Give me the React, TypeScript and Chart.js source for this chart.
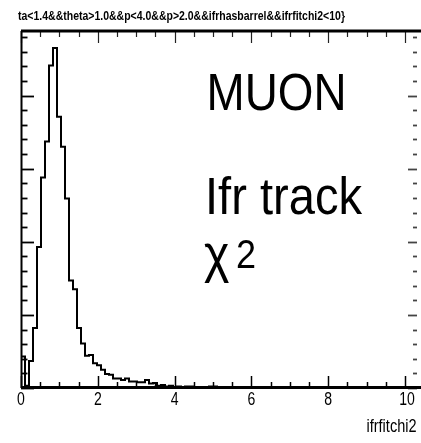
import React, { useEffect, useRef } from 'react';
import { Chart, registerables } from 'chart.js';

Chart.register(...registerables);

// ---------- data ----------
const X_MIN = 0;
const X_MAX = 10.4167; // 100 bins
const BIN_COUNT = 100;
const COUNTS: number[] = [
  43, 3, 37, 82, 193, 288, 337, 441, 465, 371,
  330, 259, 147, 135, 82, 61, 44, 45, 34, 31,
  25, 19, 18, 13, 13, 11, 13, 9, 9, 8,
  8, 11, 6, 7, 3, 4, 2, 3, 1, 2,
  1, 2, 2, 1, 1, 0, 1, 2, 2, 1,
  0, 0, 1, 0, 0, 0, 0, 0, 0, 0,
  0, 0, 0, 0, 0, 0, 0, 0, 0, 0,
  1, 1, 0, 0, 0, 0, 0, 0, 0, 0,
  0, 0, 0, 0, 0, 0, 0, 0, 0, 0,
  0, 0, 0, 0, 0, 0, 0, 0, 0, 0,
];
const X_TICK_VALUES = [0, 2, 4, 6, 8, 10];
const X_TICK_LABELS = ['0', '2', '4', '6', '8', '10'];
const X_MINOR_STEP = 0.5;
const Y_MAJOR_STEP = 100;
const Y_MINOR_STEP = 20;
const TITLE = 'ta<1.4&&theta>1.0&&p<4.0&&p>2.0&&ifrhasbarrel&&ifrfitchi2<10}';
const X_TITLE = 'ifrfitchi2';
const LABEL_1 = 'MUON';
const LABEL_2 = 'Ifr track';
const LABEL_3 = 'χ';
const LABEL_3_SUP = '2';

const FONT = '"Liberation Sans", Arial, sans-serif';

function drawScaled(ctx: CanvasRenderingContext2D, text: string, font: string, x: number, y: number, align: CanvasTextAlign, sx: number) {
  ctx.save();
  ctx.font = font;
  ctx.textAlign = align;
  ctx.textBaseline = 'alphabetic';
  ctx.fillStyle = '#000';
  ctx.translate(x, y);
  ctx.scale(sx, 1);
  ctx.fillText(text, 0, 0);
  ctx.restore();
}

function drawFit(ctx: CanvasRenderingContext2D, text: string, font: string, left: number, y: number, width: number) {
  ctx.save();
  ctx.font = font;
  const w = ctx.measureText(text).width;
  ctx.restore();
  drawScaled(ctx, text, font, left, y, 'left', width / w);
}

function line(ctx: CanvasRenderingContext2D, x1: number, y1: number, x2: number, y2: number, w: number, c = '#000') {
  ctx.beginPath();
  ctx.lineWidth = w;
  ctx.strokeStyle = c;
  ctx.moveTo(x1, y1);
  ctx.lineTo(x2, y2);
  ctx.stroke();
}

const rootFrame = {
  id: 'rootFrame',
  afterDatasetsDraw(chart: any) {
    const { ctx, chartArea: a, scales } = chart;
    const xs = scales.x;
    const ys = scales.y;
    ctx.save();
    // x ticks (bottom + top)
    for (let i = 0; i * X_MINOR_STEP <= X_MAX + 1e-9; i++) {
      const v = i * X_MINOR_STEP;
      const px = Math.round(xs.getPixelForValue(v)) + 0.5;
      const major = X_TICK_VALUES.some((t) => Math.abs(t - v) < 1e-6);
      const len = major ? 12 : 6;
      line(ctx, px, a.bottom, px, a.bottom - len, 1.5);
      line(ctx, px, a.top, px, a.top + len, 1.2, '#222');
    }
    // y ticks (left + right)
    const yMax = ys.max;
    for (let i = 0; i * Y_MINOR_STEP <= yMax; i++) {
      const v = i * Y_MINOR_STEP;
      const py = Math.round(ys.getPixelForValue(v)) + 0.5;
      const major = v % Y_MAJOR_STEP === 0;
      line(ctx, a.left, py, a.left + (major ? 13 : 6.5), py, 1.8);
      line(ctx, a.right - 4, py, a.right - (major ? 13 : 8), py, 1.8, '#444');
    }
    // frame
    line(ctx, a.left, a.top, a.right, a.top, 3);
    line(ctx, a.left + 0.5, a.top, a.left + 0.5, a.bottom, 2);
    line(ctx, a.left, a.bottom - 0.5, a.right, a.bottom - 0.5, 3);

    // tick labels
    X_TICK_VALUES.forEach((v, i) => {
      const px = xs.getPixelForValue(v);
      const dx = X_TICK_LABELS[i].length > 1 ? 2 : 0;
      drawScaled(ctx, X_TICK_LABELS[i], `18px ${FONT}`, px + dx, 405, 'center', 0.78);
    });
    // axis title
    drawFit(ctx, X_TITLE, `18px ${FONT}`, 366.5, 431.5, 50);
    // plot title
    drawFit(ctx, TITLE, `bold 13px ${FONT}`, 18, 19.5, 327);
    // text labels
    drawFit(ctx, LABEL_1, `51px ${FONT}`, 206.5, 110, 140);
    drawFit(ctx, LABEL_2, `51px ${FONT}`, 205, 213.5, 157);
    drawScaled(ctx, LABEL_3, `51px ${FONT}`, 204, 272, 'left', 0.95);
    drawScaled(ctx, LABEL_3_SUP, `40px ${FONT}`, 236, 268, 'left', 0.9);
    ctx.restore();
  },
};

export default function App() {
  const ref = useRef<HTMLCanvasElement>(null);
  useEffect(() => {
    if (!ref.current) return;
    const binW = (X_MAX - X_MIN) / BIN_COUNT;
    const pts = COUNTS.map((c, i) => ({ x: X_MIN + i * binW, y: c }));
    pts.push({ x: X_MAX, y: 0 });
    const yMax = 1.05 * Math.max(...COUNTS);
    const chart = new Chart(ref.current, {
      type: 'line',
      data: {
        datasets: [
          {
            data: pts,
            stepped: 'before',
            borderColor: '#000',
            borderWidth: 2,
            pointRadius: 0,
            fill: false,
            tension: 0,
          },
        ],
      },
      options: {
        animation: false,
        responsive: false,
        events: [],
        layout: { padding: { left: 21, top: 31, right: 0, bottom: 55 } },
        plugins: { legend: { display: false }, tooltip: { enabled: false }, title: { display: false } },
        scales: {
          x: { type: 'linear', min: X_MIN, max: X_MAX, display: false },
          y: { type: 'linear', min: 0, max: yMax, display: false },
        },
      },
      plugins: [rootFrame],
    });
    return () => chart.destroy();
  }, []);
  return (
    <div style={{ position: 'absolute', left: 0, top: 0, width: 421, height: 443, background: '#fff' }}>
      <canvas ref={ref} width={421} height={443} style={{ display: 'block' }} />
    </div>
  );
}
